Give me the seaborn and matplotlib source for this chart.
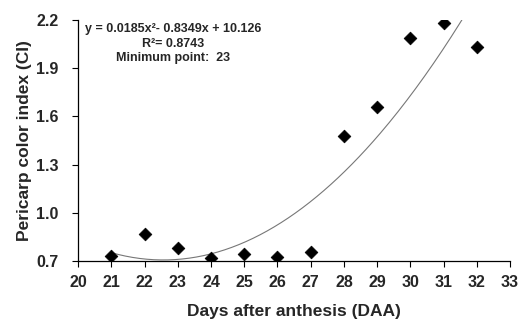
import numpy as np
import pandas as pd
import matplotlib
matplotlib.use("Agg")
import matplotlib.pyplot as plt
import seaborn as sns

# data
days = [21, 22, 23, 24, 25, 26, 27, 28, 29, 30, 31, 32]
ci = [0.73, 0.87, 0.78, 0.72, 0.745, 0.725, 0.755, 1.48, 1.655, 2.09, 2.18, 2.03]

# quadratic trend as printed on the chart
a, b, c = 0.0185, -0.8349, 10.126
x_ticks = list(range(20, 34))
y_ticks = [0.7, 1.0, 1.3, 1.6, 1.9, 2.2]

sns.set_style("white")
plt.rcParams["font.family"] = ["Liberation Sans", "DejaVu Sans"]

df = pd.DataFrame({"days": days, "ci": ci})
xs = np.linspace(21, 31.6, 200)
fit = pd.DataFrame({"x": xs, "y": a * xs**2 + b * xs + c})

fig = plt.figure(figsize=(5.21, 3.21), dpi=100)
ax = fig.add_axes([0.150, 0.187, 0.829, 0.751])

sns.lineplot(data=fit, x="x", y="y", ax=ax, color="#777777", linewidth=0.8)
sns.scatterplot(data=df, x="days", y="ci", ax=ax, marker="D", s=42,
                color="black", edgecolor="black", zorder=3)

ax.set_xlim(20, 33)
ax.set_ylim(0.7, 2.2)
ax.set_xticks(x_ticks)
ax.set_yticks(y_ticks)
ax.set_xticklabels([str(t) for t in x_ticks], fontsize=11.5, fontweight="bold")
ax.set_yticklabels([f"{t:.1f}" for t in y_ticks], fontsize=11.5, fontweight="bold")
ax.tick_params(axis="x", direction="out", length=4, width=0.8, color="black",
               bottom=True, pad=6)
ax.tick_params(axis="y", direction="out", length=4, width=0.8, color="black",
               left=True, pad=10)
for side in ["top", "right"]:
    ax.spines[side].set_visible(False)
for side in ["left", "bottom"]:
    ax.spines[side].set_color("black")
    ax.spines[side].set_linewidth(0.9)

ax.set_xlabel("Days after anthesis (DAA)", fontsize=12.5, fontweight="bold", labelpad=10)
ax.set_ylabel("Pericarp color index (CI)", fontsize=12.5, fontweight="bold", labelpad=3)

ax.text(0.22, 0.963, "y = 0.0185x²- 0.8349x + 10.126", transform=ax.transAxes,
        ha="center", va="center", fontsize=9, fontweight="bold")
ax.text(0.22, 0.900, "R²= 0.8743", transform=ax.transAxes,
        ha="center", va="center", fontsize=9, fontweight="bold")
ax.text(0.22, 0.842, "Minimum point:  23", transform=ax.transAxes,
        ha="center", va="center", fontsize=9, fontweight="bold")

fig.savefig("out.png", dpi=100)
